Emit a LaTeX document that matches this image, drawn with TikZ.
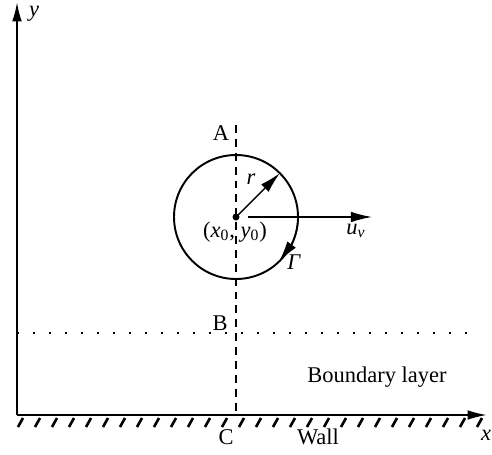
\documentclass[tikz,border=0pt]{standalone}
\usepackage{fontspec}
\setmainfont{Liberation Serif}
\usetikzlibrary{arrows.meta, bending, positioning}

\begin{document}
\begin{tikzpicture}[
        x=0.02cm, y=0.02cm,
        every node/.style={font=\fontsize{12.8}{15}\selectfont, inner sep=1pt},
        axis/.style={line width=1.1pt, -{Latex[length=11pt, width=5.5pt]}},
        hatch/.style={line width=1.5pt},
        probe/.style={line width=1.1pt, dash pattern=on 4.5pt off 3.4pt},
        layer/.style={line width=1.1pt, dash pattern=on 1.1pt off 8pt},
        vec/.style={line width=0.8pt, -{Latex[length=12pt, width=6pt]}}
    ]
    \useasboundingbox (0,0) rectangle (492,454);

    % 1. Eixos e parede
    \coordinate (orig) at (17,39);
    \coordinate (ytop) at (17,452);
    \coordinate (xend) at (487,39);
    \draw[axis] (orig) -- (ytop);
    \draw[axis] (orig) -- (xend);
    \node (ylab) at (34,440) {\textit{y}};
    \node (xlab) at (486,19) {\textit{x}};
    \foreach \i in {0,...,27}
        \draw[hatch] ({23+17*\i},36) -- ({18+17*\i},27);
    \node (wall) at (318,17) {Wall};

    % 2. Camada limite
    \coordinate (bl_l) at (17,121);
    \coordinate (bl_r) at (478,121);
    \draw[layer] (bl_l) -- (bl_r);
    \node (bl) at (377,77) {Boundary layer};

    % 3. Vortice e linha ABC
    \coordinate (c) at (236,237);
    \coordinate (top) at (236,329);
    \coordinate (foot) at (236,39);
    \draw[probe] (top) -- (foot);
    \node (lblA) at (221,321) {A};
    \node (lblB) at (220,131) {B};
    \node (lblC) at (226,17) {C};
    \draw[line width=1.1pt] (c) circle[radius=62];
    \fill (c) circle[radius=3.5];
    \node (pos) at (235,222) {(\textit{x}\textsubscript{0}, \textit{y}\textsubscript{0})};

    % raio, velocidade e circulacao
    \coordinate (rend) at ([shift={(45:62)}]c);
    \draw[vec] (c) -- (rend);
    \node (rlab) at (251,275) {\textit{r}};
    \coordinate (ustart) at (248,237);
    \coordinate (uend) at (372,237);
    \draw[vec] (ustart) -- (uend);
    \node (ulab) at (356,223) {\textit{u}\textsubscript{\textit{v}}};
    \draw[vec] ([shift={(-5:62)}]c) arc[start angle=-5, end angle=-46, radius=62];
    \node (glab) at (294,192) {\textit{Γ}};
\end{tikzpicture}
\end{document}
